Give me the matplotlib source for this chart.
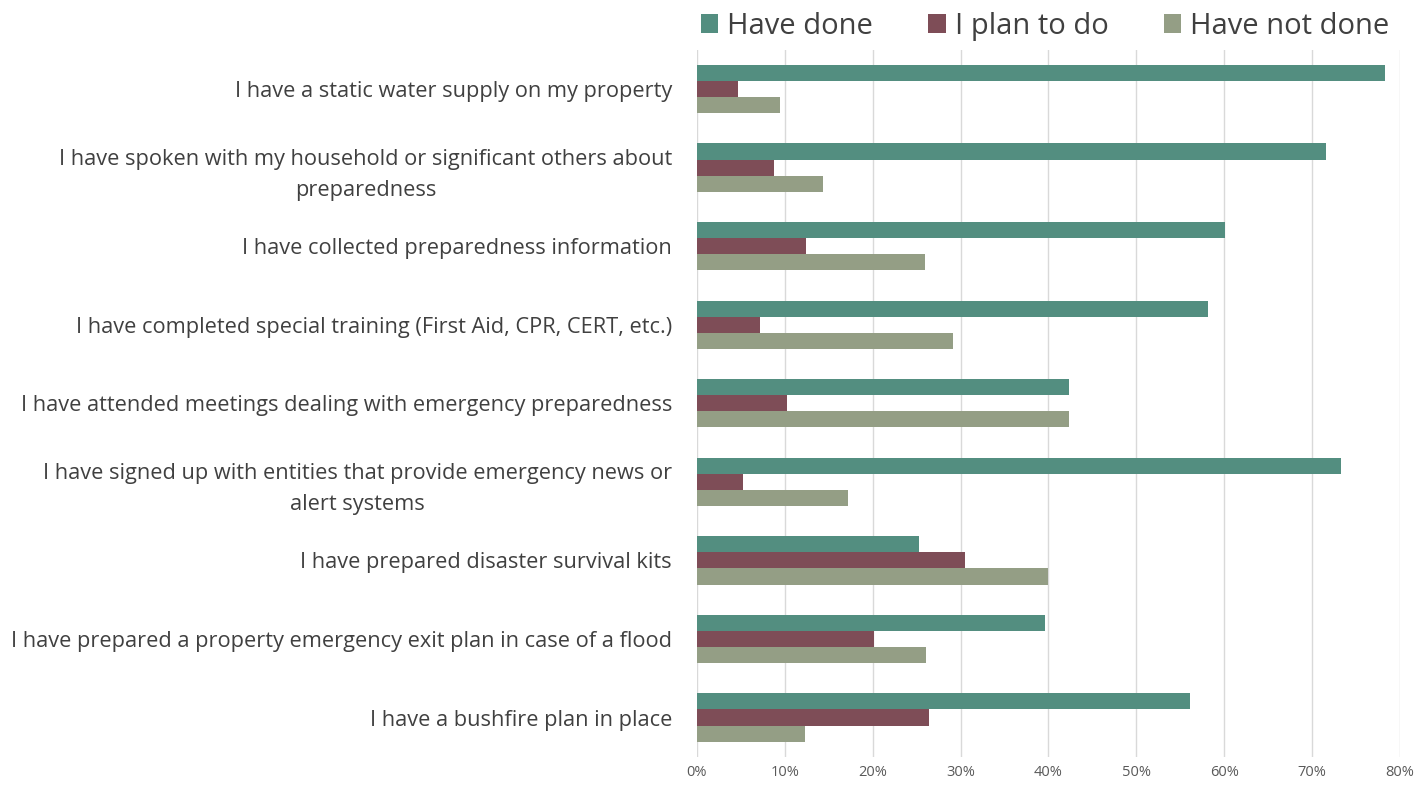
import numpy as np
import matplotlib.pyplot as plt

plt.rcParams['font.family'] = ['Open Sans', 'DejaVu Sans']

categories = [
    "I have a static water supply on my property",
    "I have spoken with my household or significant others about\npreparedness",
    "I have collected preparedness information",
    "I have completed special training (First Aid, CPR, CERT, etc.)",
    "I have attended meetings dealing with emergency preparedness",
    "I have signed up with entities that provide emergency news or\nalert systems",
    "I have prepared disaster survival kits",
    "I have prepared a property emergency exit plan in case of a flood",
    "I have a bushfire plan in place",
]
have_done = [78.3, 71.6, 60.1, 58.1, 42.3, 73.3, 25.3, 39.6, 56.1]
plan_to_do = [4.7, 8.8, 12.4, 7.2, 10.3, 5.2, 30.5, 20.2, 26.4]
have_not_done = [9.5, 14.4, 26.0, 29.1, 42.3, 17.2, 39.9, 26.1, 12.3]
series_names = ["Have done", "I plan to do", "Have not done"]
colors = ["#538E80", "#7E4D57", "#949E85"]

fig = plt.figure(figsize=(14.18, 7.9), dpi=100)
ax = fig.add_axes([0.4915, 0.042, 0.4958, 0.895])

y = np.arange(len(categories))
h = 0.205
for i, (vals, name, c) in enumerate(zip([have_done, plan_to_do, have_not_done], series_names, colors)):
    ax.barh(y + (i - 1) * h, np.array(vals) / 100, height=h, color=c, label=name, zorder=3)

ax.set_ylim(len(categories) - 0.5, -0.5)
ax.set_xlim(0, 0.8)
ax.set_xticks(np.arange(0, 0.81, 0.1))
ax.set_xticklabels([f"{int(round(t * 100))}%" for t in np.arange(0, 0.81, 0.1)])
ax.set_yticks(y)
ax.set_yticklabels(categories, fontsize=15.7, color="#404040", multialignment="center",
                   linespacing=1.6)
ax.tick_params(axis='y', length=0, pad=18)
ax.tick_params(axis='x', length=0, labelsize=10.5, colors="#595959", pad=6)
ax.grid(axis='x', color="#D9D9D9", linewidth=1, zorder=0)
for s in ax.spines.values():
    s.set_visible(False)

fig.legend(loc='upper center', bbox_to_anchor=(0.737, 1.018), ncol=3, frameon=False,
           fontsize=21, handlelength=0.6, handleheight=0.6, handletextpad=0.3,
           columnspacing=1.9, labelcolor="#404040")

fig.savefig("out.png", dpi=100)
